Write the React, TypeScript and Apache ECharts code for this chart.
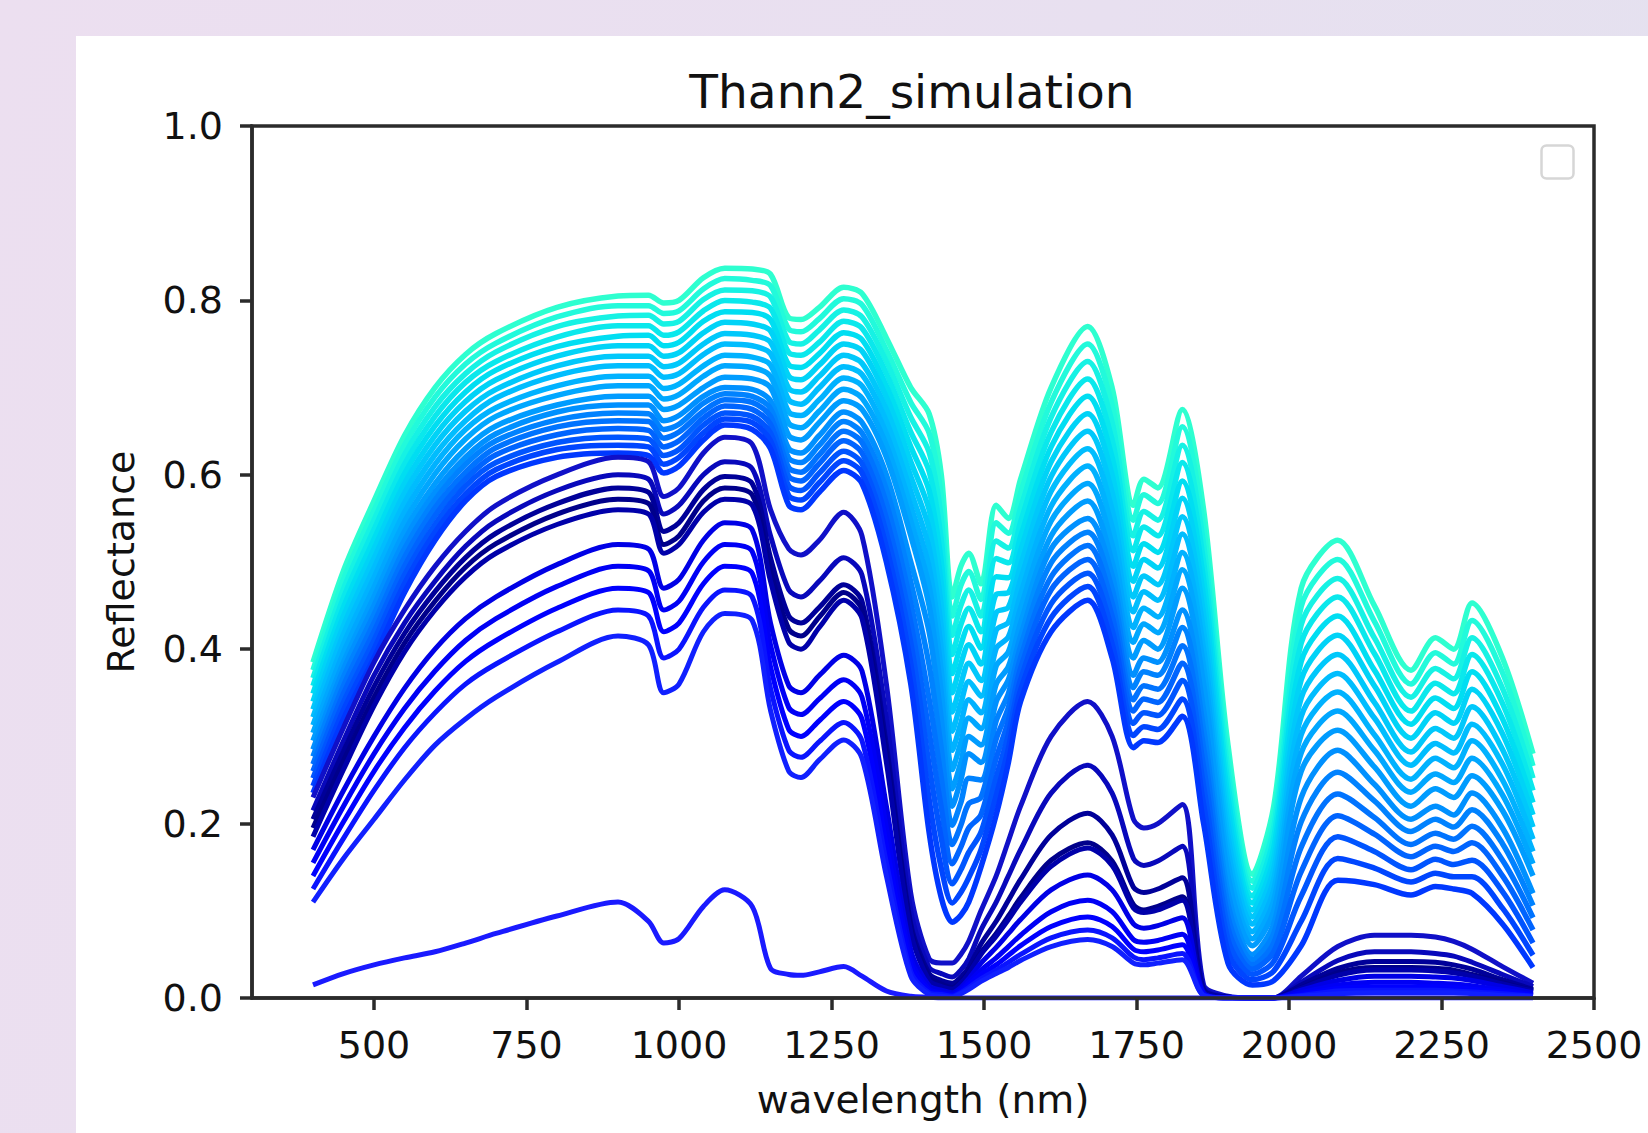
import React, { useEffect, useRef } from "react";
import * as echarts from "echarts";

// wavelength grid (nm)
const W = [400, 450, 500, 550, 600, 650, 700, 800, 900, 950, 975, 1000, 1040, 1075, 1120, 1150, 1180, 1200, 1230, 1270, 1300, 1340, 1380, 1410, 1430, 1448, 1462, 1475, 1495, 1520, 1540, 1560, 1610, 1670, 1710, 1745, 1762, 1785, 1825, 1860, 1900, 1940, 1975, 2020, 2080, 2140, 2200, 2240, 2270, 2300, 2350, 2400];

// upper (cyan) family
const c0 = [.385, .49, .57, .645, .70, .738, .762, .792, .805, .806, .797, .80, .826, .837, .836, .83, .78, .778, .792, .815, .808, .757, .70, .67, .60, .46, .495, .51, .475, .565, .55, .595, .70, .77, .70, .565, .595, .585, .675, .56, .29, .142, .22, .47, .525, .45, .376, .413, .40, .453, .39, .28];
const c1 = [.376, .48, .559, .634, .689, .727, .751, .781, .794, .794, .785, .788, .813, .825, .823, .817, .767, .764, .779, .802, .795, .743, .683, .648, .575, .438, .473, .489, .457, .545, .533, .579, .683, .75, .68, .548, .577, .567, .655, .54, .275, .134, .208, .449, .503, .432, .36, .396, .383, .433, .373, .266];
const c2 = [.367, .469, .548, .623, .678, .716, .741, .770, .782, .783, .773, .776, .801, .812, .811, .804, .753, .75, .766, .789, .781, .730, .666, .626, .55, .416, .45, .468, .438, .524, .516, .562, .666, .73, .66, .53, .558, .548, .634, .52, .26, .126, .196, .428, .481, .413, .345, .378, .366, .413, .355, .252];
const c3 = [.358, .459, .537, .612, .667, .706, .73, .758, .771, .771, .76, .764, .788, .80, .798, .791, .74, .737, .752, .776, .768, .716, .649, .604, .525, .394, .428, .447, .42, .504, .499, .546, .649, .71, .64, .513, .54, .53, .614, .50, .245, .117, .184, .407, .46, .395, .329, .361, .349, .394, .338, .238];
const c4 = [.349, .448, .526, .601, .656, .695, .72, .747, .759, .76, .748, .752, .776, .787, .786, .778, .726, .723, .739, .763, .755, .702, .632, .582, .50, .372, .405, .426, .401, .483, .482, .529, .632, .69, .62, .495, .521, .511, .593, .48, .23, .109, .172, .386, .438, .376, .314, .344, .332, .374, .32, .224];
const c5 = [.34, .438, .515, .59, .645, .684, .709, .736, .748, .748, .736, .74, .763, .775, .773, .765, .713, .709, .726, .75, .742, .689, .615, .56, .475, .35, .383, .405, .383, .463, .465, .513, .615, .67, .60, .478, .503, .493, .573, .46, .215, .101, .16, .365, .416, .358, .298, .327, .315, .354, .303, .21];
const c6 = [.331, .427, .504, .579, .634, .673, .698, .725, .736, .736, .724, .728, .75, .762, .76, .752, .699, .695, .713, .737, .728, .675, .598, .538, .45, .328, .36, .384, .364, .442, .448, .496, .598, .65, .58, .46, .484, .474, .552, .44, .20, .093, .148, .344, .394, .339, .282, .309, .298, .334, .285, .196];
const c7 = [.322, .417, .493, .568, .623, .662, .688, .714, .725, .725, .712, .716, .738, .75, .748, .739, .686, .681, .70, .724, .715, .661, .581, .516, .425, .306, .338, .363, .346, .422, .431, .48, .581, .63, .56, .443, .466, .456, .532, .42, .185, .085, .136, .323, .372, .321, .267, .292, .281, .314, .268, .182];
const c8 = [.313, .406, .482, .557, .612, .652, .677, .702, .713, .713, .699, .704, .725, .737, .735, .726, .672, .668, .686, .711, .702, .647, .564, .494, .40, .284, .315, .342, .327, .401, .414, .463, .564, .61, .54, .425, .447, .437, .511, .40, .17, .076, .124, .302, .351, .302, .251, .275, .264, .295, .25, .168];
const c9 = [.304, .396, .471, .546, .601, .641, .667, .691, .702, .702, .687, .692, .713, .725, .723, .713, .659, .654, .673, .698, .688, .634, .547, .472, .375, .262, .293, .321, .309, .381, .397, .447, .547, .59, .52, .408, .429, .419, .491, .38, .155, .068, .112, .281, .329, .284, .236, .257, .247, .275, .233, .154];
const c10 = [.295, .385, .46, .535, .59, .63, .656, .68, .69, .69, .675, .68, .70, .712, .71, .70, .645, .64, .66, .685, .675, .62, .53, .45, .35, .24, .27, .30, .29, .36, .38, .43, .53, .57, .50, .39, .41, .40, .47, .36, .14, .06, .10, .26, .307, .265, .22, .24, .23, .255, .215, .14];

// dense blue band
const d0 = [.285, .377, .45, .525, .58, .62, .647, .672, .68, .68, .662, .668, .69, .70, .698, .685, .63, .625, .645, .672, .66, .60, .50, .42, .32, .22, .25, .28, .27, .34, .365, .415, .515, .55, .485, .37, .39, .385, .445, .33, .12, .05, .085, .23, .284, .245, .205, .22, .21, .235, .195, .12];
const d1 = [.277, .368, .44, .515, .571, .612, .639, .663, .671, .67, .652, .658, .682, .693, .69, .676, .619, .614, .634, .661, .648, .583, .477, .382, .286, .198, .224, .252, .25, .318, .349, .403, .499, .534, .469, .356, .374, .37, .425, .308, .107, .044, .074, .202, .259, .226, .191, .205, .196, .216, .177, .106];
const d2 = [.268, .358, .43, .505, .562, .603, .631, .655, .662, .661, .642, .649, .673, .686, .683, .667, .608, .603, .623, .65, .637, .567, .453, .343, .252, .176, .198, .223, .23, .297, .333, .39, .483, .519, .453, .342, .358, .354, .404, .287, .093, .038, .063, .173, .234, .207, .176, .189, .182, .197, .158, .092];
const d3 = [.26, .349, .42, .495, .553, .595, .623, .646, .653, .651, .632, .639, .665, .679, .675, .658, .598, .593, .613, .639, .625, .55, .43, .305, .218, .154, .173, .195, .21, .275, .318, .378, .468, .503, .438, .329, .343, .339, .384, .265, .08, .033, .053, .145, .209, .188, .162, .174, .168, .178, .14, .078];
const d4 = [.252, .339, .41, .485, .543, .587, .614, .637, .643, .641, .622, .629, .657, .671, .667, .648, .587, .582, .602, .627, .613, .533, .407, .267, .183, .131, .147, .167, .19, .253, .302, .365, .452, .487, .422, .315, .327, .324, .364, .243, .067, .027, .042, .117, .185, .168, .147, .159, .153, .158, .122, .063];
const d5 = [.243, .33, .40, .475, .534, .578, .606, .629, .634, .632, .612, .62, .648, .664, .66, .639, .576, .571, .591, .616, .602, .517, .383, .228, .149, .109, .121, .138, .17, .232, .286, .353, .436, .472, .406, .301, .311, .308, .343, .222, .053, .021, .031, .088, .16, .149, .133, .143, .139, .139, .103, .049];
const d6 = [.235, .32, .39, .465, .525, .57, .598, .62, .625, .622, .602, .61, .64, .657, .652, .63, .565, .56, .58, .605, .59, .50, .36, .19, .115, .087, .095, .11, .15, .21, .27, .34, .42, .456, .39, .287, .295, .293, .323, .20, .04, .015, .02, .06, .135, .13, .118, .128, .125, .12, .085, .035];

// navy family
const n1 = [.23, .31, .385, .445, .495, .535, .565, .60, .62, .615, .575, .585, .625, .643, .635, .56, .515, .508, .525, .557, .53, .36, .12, .045, .04, .04, .05, .065, .10, .14, .18, .22, .30, .34, .30, .205, .195, .20, .222, .015, .002, 0, 0, .025, .059, .072, .072, .07, .065, .056, .036, .017];
const n2 = [.215, .295, .37, .43, .478, .518, .547, .582, .60, .595, .555, .565, .60, .615, .607, .53, .468, .46, .478, .505, .485, .32, .10, .035, .028, .024, .032, .045, .078, .11, .14, .17, .235, .267, .235, .16, .152, .157, .174, .012, .001, 0, 0, .018, .043, .053, .053, .051, .048, .041, .027, .013];
const n3 = [.205, .283, .357, .418, .466, .505, .533, .567, .585, .58, .535, .545, .583, .598, .59, .505, .438, .43, .448, .474, .455, .29, .085, .028, .02, .017, .024, .035, .062, .088, .112, .136, .187, .212, .187, .127, .121, .125, .138, .01, .001, 0, 0, .015, .034, .042, .042, .041, .038, .033, .021, .01];
const n4 = [.195, .272, .345, .407, .455, .494, .521, .555, .572, .567, .52, .53, .57, .585, .577, .49, .423, .415, .437, .465, .445, .28, .08, .024, .016, .012, .019, .03, .052, .074, .094, .115, .158, .178, .157, .107, .101, .105, .116, .008, .001, 0, 0, .012, .029, .035, .035, .034, .032, .027, .018, .008];
const n5 = [.185, .262, .335, .397, .445, .483, .51, .543, .56, .555, .51, .52, .557, .572, .565, .478, .408, .40, .425, .456, .435, .27, .075, .02, .013, .01, .017, .028, .05, .071, .09, .11, .151, .172, .152, .103, .098, .101, .112, .008, .001, 0, 0, .011, .026, .032, .032, .031, .029, .025, .016, .008];

// lower blue family
const l1 = [.17, .238, .30, .355, .40, .435, .46, .497, .52, .515, .47, .48, .525, .545, .537, .43, .358, .35, .37, .393, .375, .22, .055, .014, .009, .006, .012, .022, .04, .058, .074, .09, .124, .141, .124, .085, .08, .083, .092, .006, 0, 0, 0, .009, .02, .025, .025, .024, .023, .02, .013, .006];
const l2 = [.155, .22, .28, .332, .375, .41, .435, .472, .495, .49, .445, .455, .50, .52, .512, .405, .333, .325, .343, .365, .345, .195, .045, .01, .006, .004, .009, .018, .032, .046, .059, .072, .099, .112, .099, .067, .064, .066, .073, .005, 0, 0, 0, .006, .015, .018, .018, .017, .016, .014, .009, .004];
const l3 = [.14, .202, .26, .31, .352, .386, .41, .447, .47, .465, .42, .43, .475, .495, .487, .38, .308, .30, .318, .34, .32, .175, .038, .008, .005, .003, .007, .015, .027, .038, .049, .06, .082, .093, .082, .056, .053, .055, .061, .004, 0, 0, 0, .004, .011, .013, .013, .013, .012, .01, .007, .003];
const l4 = [.125, .183, .238, .287, .327, .36, .383, .42, .445, .438, .39, .40, .448, .468, .46, .355, .284, .276, .294, .316, .295, .155, .03, .006, .004, .002, .006, .012, .022, .032, .041, .05, .069, .078, .069, .047, .044, .046, .051, .003, 0, 0, 0, .003, .008, .009, .009, .009, .008, .007, .005, .002];
const l5 = [.11, .16, .205, .25, .29, .32, .345, .385, .415, .405, .35, .36, .42, .441, .433, .33, .26, .253, .273, .296, .275, .14, .025, .004, .002, .001, .005, .01, .019, .028, .035, .043, .059, .067, .059, .04, .038, .04, .044, .003, 0, 0, 0, .002, .005, .006, .006, .006, .006, .005, .003, .002];

// lowest spectrum
const low = [.015, .028, .038, .046, .053, .063, .074, .094, .11, .088, .063, .068, .105, .124, .105, .034, .027, .026, .03, .036, .025, .008, .002, .001, 0, 0, 0, 0, 0, 0, 0, 0, 0, 0, 0, 0, 0, 0, 0, 0, 0, 0, 0, 0, 0, 0, 0, 0, 0, 0, 0, 0];

const CYAN = [c0, c1, c2, c3, c4, c5, c6, c7, c8, c9, c10];
const CYAN_COLORS = ["#2effd0", "#22fadb", "#16f2e4", "#0ae8ec", "#00def2", "#00d3f7", "#00c8fb", "#00bdfe", "#00b2ff", "#00a7ff", "#009cff"];
const BAND = [d0, d1, d2, d3, d4, d5, d6];
const BAND_COLORS = ["#0090ff", "#0082ff", "#0073ff", "#0064ff", "#0055ff", "#0046ff", "#0038ff"];
const NAVY = [n1, n2, n3, n4, n5];
const NAVY_COLORS = ["#1010c8", "#0808bb", "#000099", "#00008b", "#0000aa"];
const LOWER = [l1, l2, l3, l4, l5, low];
const LOWER_COLORS = ["#0000e6", "#0000f5", "#0000ff", "#0a14ff", "#1020ff", "#1a1aff"];

const X_TICKS = [500, 750, 1000, 1250, 1500, 1750, 2000, 2250, 2500];

const FONT = "'DejaVu Sans', 'Liberation Sans', sans-serif";
const AXIS_COLOR = "#2b2b2b";

export default function App() {
  const ref = useRef<HTMLDivElement>(null);

  useEffect(() => {
    if (!ref.current) return;
    const chart = echarts.init(ref.current, null, { renderer: "svg" });

    const groups: [number[][], string[], number][] = [
      [CYAN, CYAN_COLORS, 5.5],
      [BAND, BAND_COLORS, 5.5],
      [NAVY, NAVY_COLORS, 5],
      [LOWER, LOWER_COLORS, 5],
    ];
    const series: any[] = [];
    groups.forEach(([curves, colors, width]) => {
      curves.forEach((vals, i) => {
        series.push({
          type: "line",
          data: W.map((w, j) => [w, vals[j]]),
          showSymbol: false,
          symbol: "none",
          smooth: 0.3,
          silent: true,
          clip: true,
          lineStyle: { width, color: colors[i] },
          emphasis: { disabled: true },
          z: 2,
        });
      });
    });

    chart.setOption({
      animation: false,
      backgroundColor: "transparent",
      grid: {
        left: 252,
        top: 126,
        width: 1342,
        height: 872,
        show: true,
        borderColor: AXIS_COLOR,
        borderWidth: 3.5,
        backgroundColor: "transparent",
      },
      xAxis: {
        type: "value",
        min: 300,
        max: 2500,
        z: 5,
        name: "wavelength (nm)",
        nameLocation: "middle",
        nameGap: 82,
        nameTextStyle: { fontFamily: FONT, fontSize: 39, color: "#111" },
        axisLine: { show: true, onZero: false, lineStyle: { color: AXIS_COLOR, width: 3.5 } },
        axisTick: { show: true, inside: false, length: 12, customValues: X_TICKS, lineStyle: { color: AXIS_COLOR, width: 3.5 } },
        axisLabel: {
          customValues: X_TICKS,
          margin: 28,
          fontFamily: FONT,
          fontSize: 38,
          color: "#111",
          formatter: (v: number) => String(v),
        },
        splitLine: { show: false },
      },
      yAxis: {
        type: "value",
        min: 0,
        max: 1,
        interval: 0.2,
        z: 5,
        name: "Reflectance",
        nameLocation: "middle",
        nameGap: 112,
        nameRotate: 90,
        nameTextStyle: { fontFamily: FONT, fontSize: 38, color: "#111" },
        axisLine: { show: true, onZero: false, lineStyle: { color: AXIS_COLOR, width: 3.5 } },
        axisTick: { show: true, inside: false, length: 12, lineStyle: { color: AXIS_COLOR, width: 3.5 } },
        axisLabel: {
          margin: 29,
          fontFamily: FONT,
          fontSize: 38,
          color: "#111",
          formatter: (v: number) => v.toFixed(1),
        },
        splitLine: { show: false },
      },
      graphic: [
        {
          type: "text",
          x: 912,
          y: 91,
          style: {
            text: "Thann2_simulation",
            fontFamily: FONT,
            fontSize: 47,
            fill: "#111",
            textAlign: "center",
            textVerticalAlign: "middle",
          },
          z: 10,
        },
        {
          type: "rect",
          shape: { x: 1541.5, y: 145.5, width: 32, height: 33, r: 5 },
          style: { fill: "#fff", stroke: "#d6d6d6", lineWidth: 2.5 },
          z: 10,
        },
      ],
      series,
    });

    return () => chart.dispose();
  }, []);

  return (
    <div
      style={{
        position: "fixed",
        left: 0,
        top: 0,
        width: 1648,
        height: 1133,
        background: "linear-gradient(100deg, #ecdff0 0%, #e8e0f0 60%, #e4e1ef 100%)",
        overflow: "hidden",
      }}
    >
      <div style={{ position: "absolute", left: 76, top: 36, right: 0, bottom: 0, background: "#ffffff" }} />
      <div ref={ref} style={{ position: "absolute", left: 0, top: 0, width: 1648, height: 1133 }} />
    </div>
  );
}
